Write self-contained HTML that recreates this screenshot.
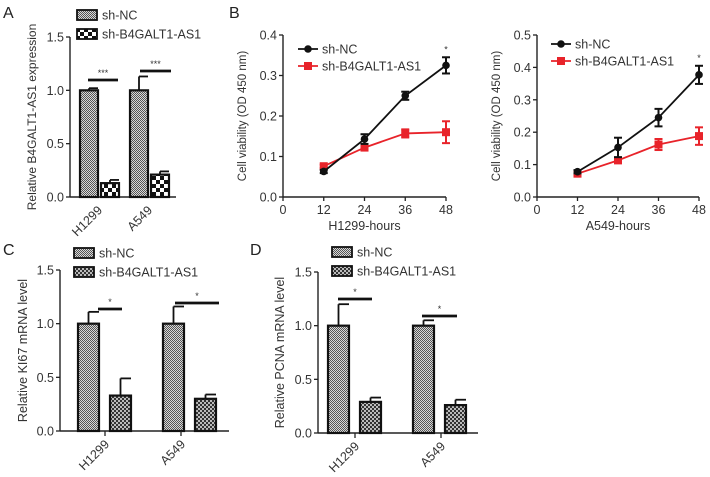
<!DOCTYPE html>
<html><head><meta charset="utf-8"><style>
body{margin:0;background:#fff}
svg{display:block;font-family:"Liberation Sans",sans-serif}
</style></head><body>
<svg id="fig" width="710" height="477" viewBox="0 0 710 477">
<defs>
<pattern id="pNC" width="2" height="2" patternUnits="userSpaceOnUse"><rect width="2" height="2" fill="#d8d8d8"/><rect width="1" height="1" fill="#555"/><rect x="1" y="1" width="1" height="1" fill="#555"/></pattern>
<pattern id="pKDa" width="8" height="8" patternUnits="userSpaceOnUse"><rect width="8" height="8" fill="#fff"/><rect width="4" height="4" fill="#111"/><rect x="4" y="4" width="4" height="4" fill="#111"/></pattern>
<pattern id="pKD" width="4" height="4" patternUnits="userSpaceOnUse"><rect width="4" height="4" fill="#bbb"/><rect width="2" height="2" fill="#333"/><rect x="2" y="2" width="2" height="2" fill="#333"/></pattern>
</defs>
<g id="root"></g>
</svg>
<script>
// Panel A data
const aCats=["H1299","A549"];
const aNC=[1.0,1.0], aNCerr=[0.02,0.13];
const aKD=[0.13,0.21], aKDerr=[0.03,0.03];
// Panel B data
const hours=[12,24,36,48];
const b1NC=[0.063,0.143,0.25,0.325], b1NCerr=[0.004,0.012,0.01,0.02];
const b1KD=[0.076,0.122,0.157,0.16], b1KDerr=[0.004,0.005,0.01,0.027];
const b2NC=[0.078,0.153,0.245,0.377], b2NCerr=[0.005,0.03,0.027,0.028];
const b2KD=[0.072,0.113,0.162,0.188], b2KDerr=[0.005,0.007,0.017,0.027];
const b1Ticks=[0,0.1,0.2,0.3,0.4], b2Ticks=[0,0.1,0.2,0.3,0.4,0.5];
const hourTicks=[0,12,24,36,48];
// Panel C data
const cNC=[1.0,1.0], cNCerr=[0.11,0.16];
const cKD=[0.33,0.30], cKDerr=[0.16,0.04];
// Panel D data
const dNC=[1.0,1.0], dNCerr=[0.2,0.05];
const dKD=[0.29,0.26], dKDerr=[0.04,0.05];
const barTicks=[0,0.5,1.0,1.5];

const NS="http://www.w3.org/2000/svg";
const root=document.getElementById('root');
function el(tag,attrs,parent,text){const e=document.createElementNS(NS,tag);for(const k in attrs)e.setAttribute(k,attrs[k]);if(text!==undefined)e.textContent=text;(parent||root).appendChild(e);return e;}
function fmt(v,d){return v.toFixed(d);}

function letter(t,x,y){const e=el('text',{x:x,y:y,'font-size':16,fill:'#222'},root,t);

}

function yAxis(g,x,y0,y1,ticks,max,dec,title,tx,tfs){
  const sy=v=>y0-(v/max)*(y0-y1);
  const ax=el('line',{x1:x,x2:x,y1:y0,y2:y1,stroke:'#222','stroke-width':1.4},g);
  
  
  ticks.forEach(t=>{el('line',{x1:x-4,x2:x,y1:sy(t),y2:sy(t),stroke:'#222','stroke-width':1.3},g);
    const l=el('text',{x:x-6,y:sy(t)+4.5,'font-size':12.5,'text-anchor':'end',fill:'#333'},g,fmt(t,dec));
    
    });
  const cy=(y0+y1)/2;
  const tt=el('text',{x:tx,y:cy,'font-size':tfs,'text-anchor':'middle',fill:'#333',transform:`rotate(-90 ${tx} ${cy})`},g,title);
  
  
  return sy;
}

function legendBars(g,x,y,fills){
  const names=["sh-NC","sh-B4GALT1-AS1"];
  names.forEach((n,i)=>{
    const r=el('rect',{x:x,y:y+i*19-5,width:20,height:10,fill:fills[i],stroke:'#111','stroke-width':1.8},g);
    
    
    const t=el('text',{x:x+25,y:y+i*19+4.5,'font-size':12.5,fill:'#333'},g,n);
    
    
  });
}

function barPanel(opt){
  const g=el('g',{},root);
  
  
  const sy=yAxis(g,opt.ax,opt.y0,opt.y1,barTicks,1.5,1,opt.title,opt.tx,opt.tfs);
  const xa=el('line',{x1:opt.ax,x2:opt.xend,y1:opt.y0,y2:opt.y0,stroke:'#222','stroke-width':1.4},g);
  
  
  const series=[[opt.nc,opt.ncErr,opt.ncFill],[opt.kd,opt.kdErr,opt.kdFill]];
  aCats.forEach((c,ci)=>{
    series.forEach((s,si)=>{
      const x=opt.groupX[ci]+si*opt.step, v=s[0][ci], e=s[1][ci];
      const top=sy(v), cx=x+opt.bw/2;
      const eb=el('line',{x1:cx,x2:cx,y1:top,y2:sy(v+e),stroke:'#111','stroke-width':1.8},g);
      
      
      const cap=el('line',{x1:cx,x2:cx+opt.bw/2,y1:sy(v+e),y2:sy(v+e),stroke:'#111','stroke-width':1.8},g);
      
      
      const r=el('rect',{x:x,y:top,width:opt.bw,height:opt.y0-top,fill:s[2],stroke:'#111','stroke-width':2.2},g);
      
      
    });
    if(opt.ticks){el('line',{x1:opt.ticks[ci],x2:opt.ticks[ci],y1:opt.y0,y2:opt.y0+5,stroke:'#222','stroke-width':1.3},g);}
    const lx=opt.labX[ci], ly=opt.y0+14;
    const lab=el('text',{x:lx,y:ly,'font-size':12.5,'text-anchor':'end',fill:'#333',transform:`rotate(-45 ${lx} ${ly})`},g,c);
    
    
    const sg=opt.sig[ci];
    const sl=el('line',{x1:sg[0],x2:sg[1],y1:sg[2],y2:sg[2],stroke:'#111','stroke-width':2.8},g);
    
    
    const st=el('text',{x:(sg[0]+sg[1])/2,y:sg[2]-4,'font-size':9,'text-anchor':'middle',fill:'#333'},g,opt.star);
    
    
  });
  legendBars(g,opt.legX,opt.legY,[opt.ncFill,opt.kdFill]);
}

function linePanel(opt){
  const g=el('g',{},root);
  
  
  const sy=yAxis(g,opt.ax,opt.y0,opt.y1,opt.yt,opt.ymax,1,'Cell viability (OD 450 nm)',opt.tx,11.5);
  const sx=h=>opt.ax+(h/48)*(opt.xend-opt.ax);
  const xa=el('line',{x1:opt.ax,x2:opt.xend,y1:opt.y0,y2:opt.y0,stroke:'#222','stroke-width':1.4},g);
  
  
  hourTicks.forEach(h=>{el('line',{x1:sx(h),x2:sx(h),y1:opt.y0,y2:opt.y0+4,stroke:'#222','stroke-width':1.3},g);
    const t=el('text',{x:sx(h),y:opt.y0+17,'font-size':12.5,'text-anchor':'middle',fill:'#333'},g,String(h));
    
    });
  const xt=el('text',{x:(opt.ax+opt.xend)/2,y:opt.y0+33,'font-size':12.5,'text-anchor':'middle',fill:'#333'},g,opt.xtitle);
  
  
  const ser=[[opt.kd,opt.kdErr,'#e8232a','kd'],[opt.nc,opt.ncErr,'#111','nc']];
  ser.forEach(s=>{
    const pts=hours.map((h,i)=>sx(h)+','+sy(s[0][i])).join(' ');
    const pl=el('polyline',{points:pts,fill:'none',stroke:s[2],'stroke-width':1.8},g);
    
    
    hours.forEach((h,i)=>{
      const x=sx(h),v=s[0][i],e=s[1][i];
      el('line',{x1:x,x2:x,y1:sy(v-e),y2:sy(v+e),stroke:s[2],'stroke-width':2},g);
      el('line',{x1:x-4,x2:x+4,y1:sy(v-e),y2:sy(v-e),stroke:s[2],'stroke-width':2},g);
      el('line',{x1:x-4,x2:x+4,y1:sy(v+e),y2:sy(v+e),stroke:s[2],'stroke-width':2},g);
      let m;
      if(s[3]==='nc') m=el('circle',{cx:x,cy:sy(v),r:3.8,fill:s[2]},g);
      else m=el('rect',{x:x-4,y:sy(v)-4,width:8,height:8,fill:s[2]},g);
      
      
    });
  });
  const last=hours.length-1;
  const st=el('text',{x:sx(48),y:sy(opt.nc[last]+opt.ncErr[last])-5,'font-size':9,'text-anchor':'middle',fill:'#333'},g,'*');
  
  
  const lg=[['sh-NC','#111','nc'],['sh-B4GALT1-AS1','#e8232a','kd']];
  lg.forEach((l,i)=>{
    const y=opt.legY+i*17, x=opt.legX;
    el('line',{x1:x,x2:x+20,y1:y,y2:y,stroke:l[1],'stroke-width':1.8},g);
    if(l[2]==='nc') el('circle',{cx:x+10,cy:y,r:3.8,fill:l[1]},g); else el('rect',{x:x+6,y:y-4,width:8,height:8,fill:l[1]},g);
    const t=el('text',{x:x+24,y:y+4.5,'font-size':12.5,fill:'#333'},g,l[0]);
    
    
  });
}

letter('A',3,18);letter('B',229,18);letter('C',3,255);letter('D',250,255);

barPanel({name:'panel-a-chart',ax:70,y0:197,y1:37,xend:176,tx:36,tfs:12,title:'Relative B4GALT1-AS1 expression',
  nc:aNC,ncErr:aNCerr,kd:aKD,kdErr:aKDerr,ncFill:'url(#pNC)',kdFill:'url(#pKDa)',
  groupX:[80,130],step:21,bw:18,labX:[103,153],sig:[[88,118,80],[140,171,71]],star:'***',legX:77,legY:15});
linePanel({name:'panel-b-h1299-chart',ax:283,y0:197,y1:35,xend:446,yt:b1Ticks,ymax:0.4,tx:246,
  nc:b1NC,ncErr:b1NCerr,kd:b1KD,kdErr:b1KDerr,xtitle:'H1299-hours',legX:298,legY:49});
linePanel({name:'panel-b-a549-chart',ax:537,y0:197,y1:35,xend:699,yt:b2Ticks,ymax:0.5,tx:500,
  nc:b2NC,ncErr:b2NCerr,kd:b2KD,kdErr:b2KDerr,xtitle:'A549-hours',legX:551,legY:44});
barPanel({name:'panel-c-chart',ax:60,y0:431,y1:270,xend:229,tx:27,tfs:12.5,title:'Relative KI67 mRNA level',
  nc:cNC,ncErr:cNCerr,kd:cKD,kdErr:cKDerr,ncFill:'url(#pNC)',kdFill:'url(#pKD)',
  groupX:[78,163],step:32,bw:21,ticks:[105,181],labX:[110,186],sig:[[98,122,309],[175,219,303]],star:'*',legX:74,legY:253});
barPanel({name:'panel-d-chart',ax:318,y0:433,y1:272,xend:478,tx:284,tfs:12.5,title:'Relative PCNA mRNA level',
  nc:dNC,ncErr:dNCerr,kd:dKD,kdErr:dKDerr,ncFill:'url(#pNC)',kdFill:'url(#pKD)',
  groupX:[328,413],step:32,bw:21,ticks:[355,441],labX:[360,446],sig:[[338,372,299],[422,457,316]],star:'*',legX:332,legY:252});
</script>
</body></html>
